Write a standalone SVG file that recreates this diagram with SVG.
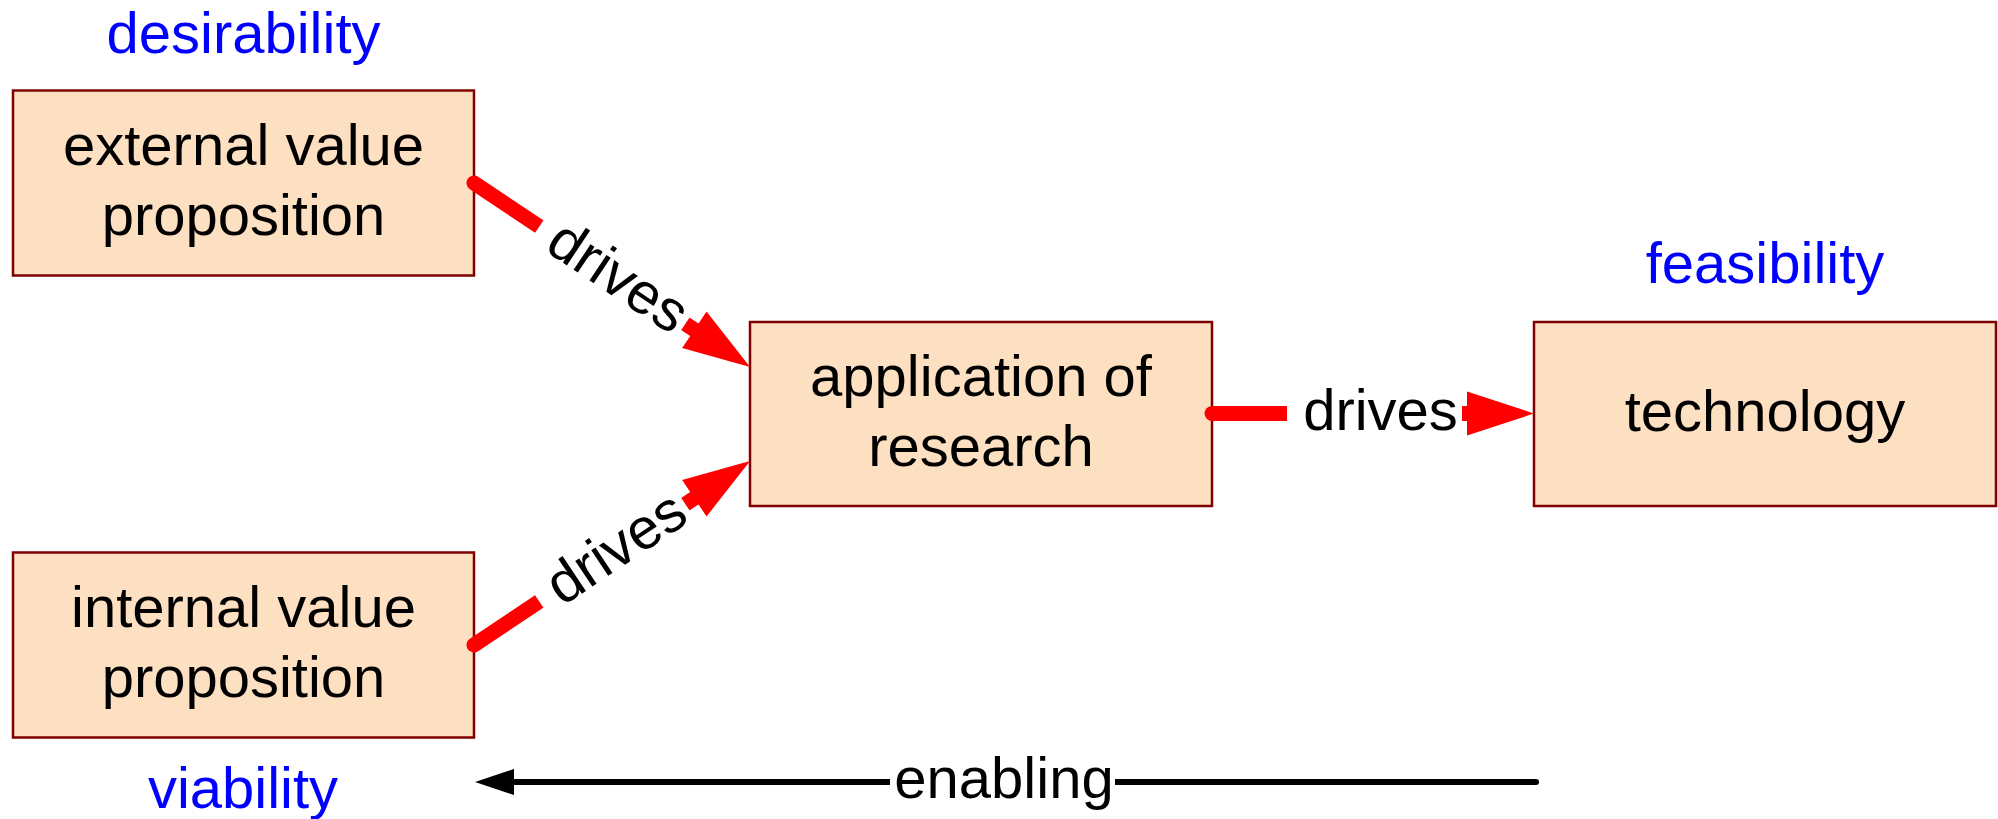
<svg xmlns="http://www.w3.org/2000/svg" width="1998" height="819" viewBox="0 0 1998 819">
  <style>
    .box { fill: #FDDFC1; stroke: #7F0000; stroke-width: 2.5; }
    text { font-family: "Liberation Sans", Arial, sans-serif; font-size: 58px; text-anchor: middle; }
    .lbl { fill: #000000; }
    .aspect { fill: #0000FF; }
    .drive { fill: none; stroke: #FF0000; stroke-width: 15; stroke-linecap: round; }
    .enable { fill: none; stroke: #000000; stroke-width: 6; stroke-linecap: round; }
    .bg { fill: #FFFFFF; }
  </style>
  <defs>
    <marker id="redHead" markerUnits="userSpaceOnUse" markerWidth="70" markerHeight="48" viewBox="0 -24 70 48" refX="0" refY="0" orient="auto">
      <polygon points="0,-22 67,0 0,22" fill="#FF0000"/>
    </marker>
    <marker id="blackHead" markerUnits="userSpaceOnUse" markerWidth="44" markerHeight="30" viewBox="0 -15 44 30" refX="0" refY="0" orient="auto">
      <polygon points="0,-13 39,0 0,13" fill="#000000"/>
    </marker>
  </defs>

  <rect width="1998" height="819" fill="#FFFFFF"/>

  <!-- aspect captions -->
  <text class="aspect" x="243.5" y="53">desirability</text>
  <text class="aspect" x="1765" y="283">feasibility</text>
  <text class="aspect" x="243" y="808">viability</text>

  <!-- nodes -->
  <g id="external">
    <rect class="box" x="13" y="90.5" width="461" height="185"/>
    <text class="lbl" x="243.5" y="165">external value</text>
    <text class="lbl" x="243.5" y="235">proposition</text>
  </g>
  <g id="internal">
    <rect class="box" x="13" y="552.5" width="461" height="185"/>
    <text class="lbl" x="243.5" y="627">internal value</text>
    <text class="lbl" x="243.5" y="697">proposition</text>
  </g>
  <g id="application">
    <rect class="box" x="750" y="322" width="462" height="184"/>
    <text class="lbl" x="981" y="396">application of</text>
    <text class="lbl" x="981" y="466">research</text>
  </g>
  <g id="technology">
    <rect class="box" x="1534" y="322" width="462" height="184"/>
    <text class="lbl" x="1765" y="431">technology</text>
  </g>

  <!-- connectors -->
  <g id="connectors">
    <path class="drive" d="M474 183 L694.3 329.8" marker-end="url(#redHead)"/>
    <g transform="translate(617.1,278.4) rotate(33.69)">
      <rect class="bg" x="-93.5" y="-10" width="175.5" height="20"/>
      <text class="lbl" x="0" y="17">drives</text>
    </g>

    <path class="drive" d="M474 645 L694.3 498.2" marker-end="url(#redHead)"/>
    <g transform="translate(617.1,549.6) rotate(-33.69)">
      <rect class="bg" x="-93.5" y="-10" width="175.5" height="20"/>
      <text class="lbl" x="0" y="17">drives</text>
    </g>

    <path class="drive" d="M1212 413.5 H1467" marker-end="url(#redHead)"/>
    <rect class="bg" x="1287" y="403" width="175" height="21"/>
    <text class="lbl" x="1380.5" y="430">drives</text>

    <path class="enable" d="M1536 782 H514" marker-end="url(#blackHead)"/>
    <rect class="bg" x="890" y="776" width="225" height="12"/>
    <text class="lbl" x="1004" y="798">enabling</text>
  </g>
</svg>
